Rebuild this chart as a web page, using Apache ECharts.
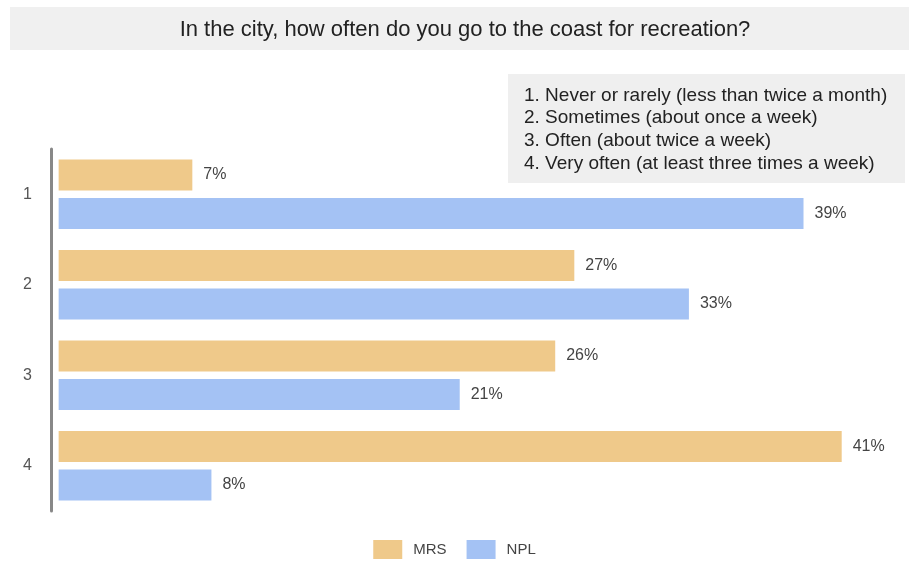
<!DOCTYPE html>
<html><head><meta charset="utf-8">
<script src="https://cdn.jsdelivr.net/npm/echarts@6/dist/echarts.min.js"></script>
<style>html,body{margin:0;padding:0;background:#fff}#c{width:909px;height:561px}</style>
</head><body><div id="c"></div>
<script>
const categories = ['1', '2', '3', '4'];
const mrs = [7, 27, 26, 41];
const npl = [39, 33, 21, 8];
const seriesNames = ['MRS', 'NPL'];
const titleText = 'In the city, how often do you go to the coast for recreation?';
const keyLines = [
  '1. Never or rarely (less than twice a month)',
  '2. Sometimes (about once a week)',
  '3. Often (about twice a week)',
  '4. Very often (at least three times a week)'
];

const chart = echarts.init(document.getElementById('c'));
const font = 'Liberation Sans, Arial, sans-serif';
chart.setOption({
  animation: false,
  backgroundColor: '#fff',
  textStyle: { fontFamily: font },
  graphic: [
    { type: 'rect', left: 10, top: 7, shape: { width: 899, height: 43 }, style: { fill: '#f0f0f0' } },
    { type: 'text', x: 465, y: 30, style: { text: titleText, fill: '#222', font: '22px ' + font, textAlign: 'center', textVerticalAlign: 'middle' } },
    { type: 'rect', left: 508, top: 74, shape: { width: 397, height: 109 }, style: { fill: '#efefef' } },
    { type: 'text', x: 524, y: 84, style: { text: keyLines.join('\n'), fill: '#222', font: '19px ' + font, lineHeight: 22.7 } }
  ],
  legend: {
    top: 535, left: 'center', icon: 'rect',
    itemWidth: 29, itemHeight: 19, itemGap: 20,
    textStyle: { color: '#444', fontSize: 15, fontFamily: font, padding: [0, 0, 0, 6] },
    data: seriesNames
  },
  grid: { left: 51, right: 10, top: 149, bottom: 50, containLabel: false },
  xAxis: { type: 'value', min: -0.4, max: 44, show: false },
  yAxis: {
    type: 'category', data: categories, inverse: true,
    axisLine: { show: true, onZero: false, lineStyle: { color: '#888', width: 3 } },
    axisTick: { show: false },
    axisLabel: { color: '#555', fontSize: 16, margin: 19 }
  },
  series: [
    { name: seriesNames[0], type: 'bar', data: mrs, barWidth: 31, barGap: '24%',
      itemStyle: { color: '#efc98a' },
      label: { show: true, position: 'right', distance: 11, formatter: '{c}%', color: '#444', fontSize: 16, fontFamily: font } },
    { name: seriesNames[1], type: 'bar', data: npl, barWidth: 31,
      itemStyle: { color: '#a4c2f4' },
      label: { show: true, position: 'right', distance: 11, formatter: '{c}%', color: '#444', fontSize: 16, fontFamily: font } }
  ]
});
</script></body></html>
